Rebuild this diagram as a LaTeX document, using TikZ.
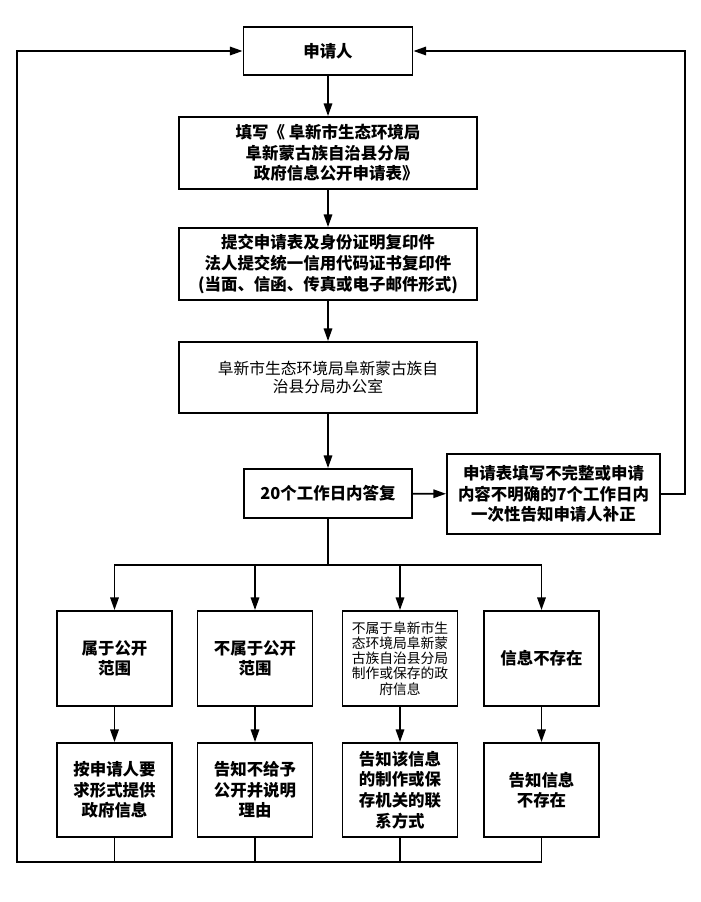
\documentclass[tikz,border=0pt]{standalone}
\usepackage{fontspec}
\setmainfont{Noto Sans CJK SC}
\usetikzlibrary{positioning,arrows.meta}

\tikzset{
    box/.style={draw, rectangle, line width=1.3pt, align=center, inner sep=2pt,
        font=\bfseries\fontsize{11.7}{14.7}\selectfont},
    plainbox/.style={box, font=\fontsize{11.2}{12.8}\selectfont},
    smallbox/.style={box, font=\fontsize{9.8}{10.8}\selectfont},
    arr/.style={-{Triangle[length=9pt,width=6pt]}, line width=1.3pt},
    link/.style={line width=1.3pt},
}

\begin{document}
\begin{tikzpicture}[x=0.025cm, y=-0.025cm]
    \useasboundingbox (0,0) rectangle (700,902);

    % Main column
    \node[box, minimum width=4.225cm, minimum height=1.2cm] (applicant) at (328,51) {申请人};
    \node[box, minimum width=7.44cm, minimum height=1.8cm] (form) at (328,153)
        {填写《 阜新市生态环境局\\阜新蒙古族自治县分局\\\hspace{1em}政府信息公开申请表》};
    \node[box, minimum width=7.44cm, minimum height=1.8cm] (submit) at (328,264)
        {提交申请表及身份证明复印件\\法人提交统一信用代码证书复印件\\(当面、信函、传真或电子邮件形式)};
    \node[plainbox, minimum width=7.44cm, minimum height=1.775cm] (office) at (328,377.5)
        {阜新市生态环境局阜新蒙古族自\\治县分局办公室};
    \node[box, minimum width=4.2cm, minimum height=1.225cm] (reply) at (328,493.5) {20个工作日内答复};
    \node[box, minimum width=5.325cm, minimum height=2cm] (correct) at (553.5,494)
        {申请表填写不完整或申请\\内容不明确的7个工作日内\\一次性告知申请人补正};

    % Four cases
    \node[box, minimum width=2.875cm, minimum height=2.375cm] (open) at (114.5,658.5) {属于公开\\范围};
    \node[box, minimum width=2.875cm, minimum height=2.375cm] (notopen) at (255,658.5) {不属于公开\\范围};
    \node[smallbox, minimum width=2.875cm, minimum height=2.375cm] (other) at (400,658.5)
        {不属于阜新市生\\态环境局阜新蒙\\古族自治县分局\\制作或保存的政\\府信息};
    \node[box, minimum width=2.875cm, minimum height=2.375cm] (none) at (541.5,658.5) {信息不存在};

    % Answers
    \node[box, minimum width=2.875cm, minimum height=2.35cm] (provide) at (114.5,790) {按申请人要\\求形式提供\\政府信息};
    \node[box, minimum width=2.875cm, minimum height=2.35cm] (refuse) at (255,790) {告知不给予\\公开并说明\\理由};
    \node[box, minimum width=2.875cm, minimum height=2.35cm] (refer) at (400,790) {告知该信息\\的制作或保\\存机关的联\\系方式};
    \node[box, minimum width=2.875cm, minimum height=2.35cm] (nonexist) at (541.5,790) {告知信息\\不存在};

    % Helper points
    \coordinate (split) at (328,565);
    \coordinate (rightrail) at (685,494);
    \coordinate (bottomrail) at (17,862);

    % Arrows
    \draw[arr] (applicant) -- (form);
    \draw[arr] (form) -- (submit);
    \draw[arr] (submit) -- (office);
    \draw[arr] (office) -- (reply);
    \draw[arr] (reply) -- (correct);
    \draw[arr] (correct.east) -- (rightrail) |- (applicant.east);

    \draw[link] (reply) -- (split);
    \foreach \c in {open,notopen,other,none}
        \draw[arr] (split) -| (\c.north);

    \draw[arr] (open) -- (provide);
    \draw[arr] (notopen) -- (refuse);
    \draw[arr] (other) -- (refer);
    \draw[arr] (none) -- (nonexist);

    % Back to applicant
    \foreach \d in {provide,refuse,refer}
        \draw[link] (\d.south) -- (\d.south |- bottomrail);
    \draw[arr] (nonexist.south) |- (bottomrail) |- (applicant.west);
\end{tikzpicture}
\end{document}
